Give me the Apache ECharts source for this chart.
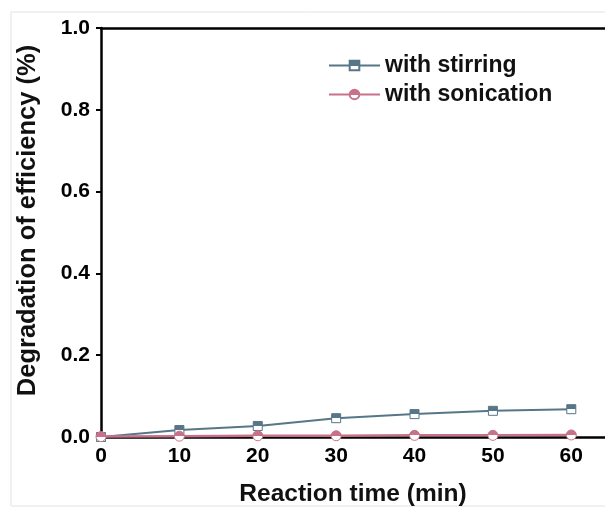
<!DOCTYPE html>
<html><head><meta charset="utf-8">
<script src="https://cdn.jsdelivr.net/npm/echarts@6/dist/echarts.min.js"></script>
<style>html,body{margin:0;padding:0;background:#fff}#c{width:605px;height:508px}</style>
</head><body><div id="c"></div>
<script>
const times = [0, 10, 20, 30, 40, 50, 60];
const stirring = [0.0, 0.017, 0.027, 0.046, 0.056, 0.064, 0.068];
const sonication = [0.001, 0.002, 0.003, 0.003, 0.004, 0.004, 0.005];
const seriesNames = ['with stirring', 'with sonication'];
const xTitle = 'Reaction time (min)';
const yTitle = 'Degradation of efficiency (%)';

const c1 = '#577688', c2 = '#c7728a';
function half(c){return {type:'linear',x:0,y:0,x2:0,y2:1,colorStops:[{offset:0,color:c},{offset:0.5,color:c},{offset:0.5,color:'#fff'},{offset:1,color:'#fff'}]};}
const font = 'Liberation Sans, Arial, sans-serif';
const chart = echarts.init(document.getElementById('c'), null, {renderer:'canvas'});
chart.setOption({
  animation:false,
  backgroundColor:'#fff',
  graphic:[{type:'rect',shape:{x:11,y:12,width:620,height:494},style:{fill:'none',stroke:'#e2e2e2',lineWidth:1},silent:true,z:-1}],
  grid:{left:101,top:28,bottom:71,right:0,containLabel:false,outerBoundsMode:'none'},
  legend:{orient:'vertical',left:323,top:49,itemWidth:51,itemHeight:12,itemGap:6,
    textStyle:{fontFamily:font,fontWeight:'bold',fontSize:23,color:'#111'},
    data:seriesNames},
  xAxis:[{type:'value',min:0,max:64.3,interval:10,position:'bottom',
    axisLine:{lineStyle:{color:'#000',width:2.5}},axisTick:{show:false},splitLine:{show:false},
    axisLabel:{fontFamily:font,fontWeight:'bold',fontSize:21,color:'#000',margin:9,
      formatter:v=>(Math.abs(v%10)<1e-9?String(v):'')},
    name:xTitle,nameLocation:'middle',nameGap:45,
    nameTextStyle:{fontFamily:font,fontWeight:'bold',fontSize:24.5,color:'#111'}},
   {type:'value',min:0,max:64.3,position:'top',
    axisLine:{show:true,onZero:false,lineStyle:{color:'#000',width:2.5}},axisTick:{show:false},axisLabel:{show:false},splitLine:{show:false}}],
  yAxis:{type:'value',min:0,max:1,interval:0.2,
    axisLine:{show:true,lineStyle:{color:'#000',width:2.5}},
    axisTick:{show:true,inside:false,length:5,lineStyle:{width:2,color:'#000'}},splitLine:{show:false},
    axisLabel:{fontFamily:font,fontWeight:'bold',fontSize:21,color:'#000',margin:11,formatter:v=>v.toFixed(1)},
    name:yTitle,nameLocation:'middle',nameGap:60,
    nameTextStyle:{fontFamily:font,fontWeight:'bold',fontSize:25.5,color:'#111',padding:[0,0,0,24]}},
  series:[
    {name:seriesNames[0],type:'line',data:times.map((t,i)=>[t,stirring[i]]),
     symbol:'rect',symbolSize:9,lineStyle:{color:c1,width:2},
     itemStyle:{color:half(c1),borderColor:c1,borderWidth:1}},
    {name:seriesNames[1],type:'line',data:times.map((t,i)=>[t,sonication[i]]),
     symbol:'circle',symbolSize:10,lineStyle:{color:c2,width:2.5},
     itemStyle:{color:half(c2),borderColor:c2,borderWidth:1}}
  ]
});
</script></body></html>
